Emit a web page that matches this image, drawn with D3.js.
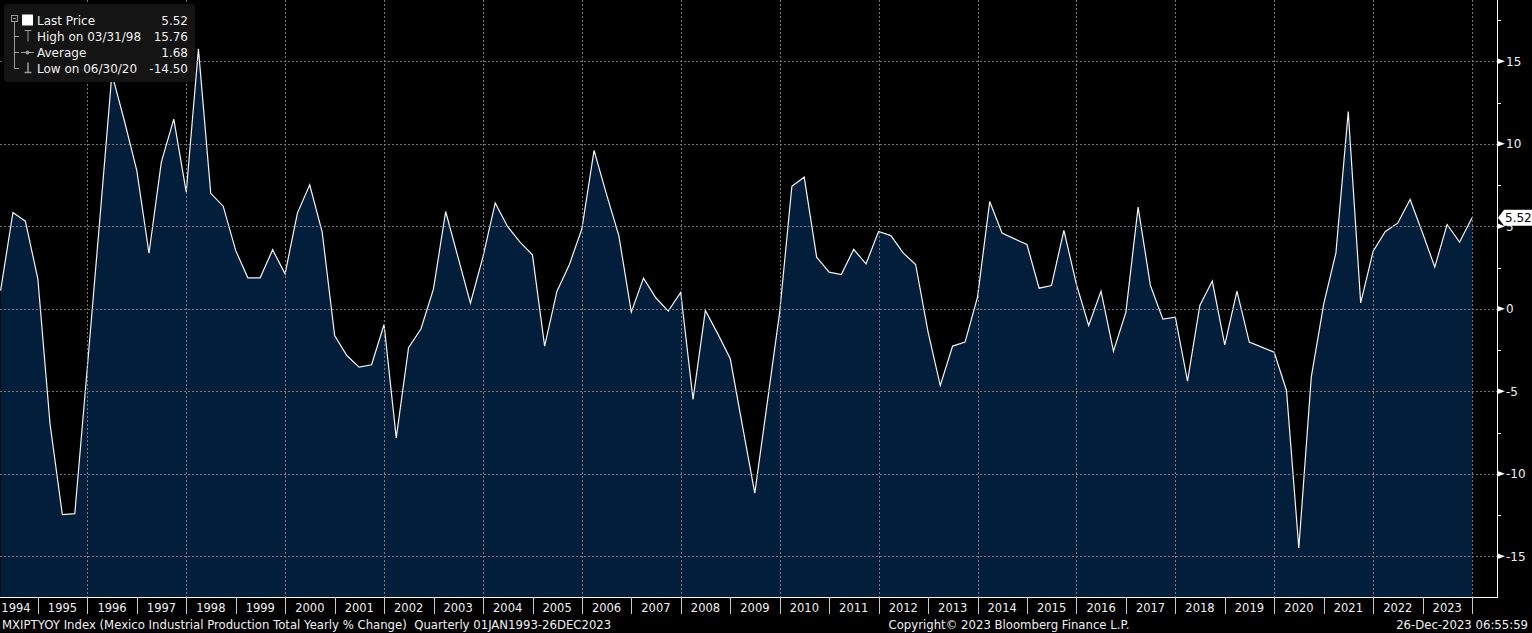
<!DOCTYPE html>
<html>
<head>
<meta charset="utf-8">
<script src="https://cdn.jsdelivr.net/npm/d3@7"></script>
<style>
  html, body { margin: 0; padding: 0; background: #000; overflow: hidden; }
  svg { display: block; font-family: 'DejaVu Sans', sans-serif; }
  .footer text { white-space: pre; }
</style>
</head>
<body>
<div id="chart"></div>
<script>
// ---------------------------------------------------------------------------
// Data

// first point of the series, dated at quarter end
const firstQuarterEnd = Date.UTC(1994, 2, 31);

// MXIPTYOY Index, yearly % change, one value per quarter (1994 Q1 .. 2023 Q4)
const yoyChange = [
  1.10, 5.84, 5.31, 1.82,        // 1994
  -6.97, -12.48, -12.42, -3.60,  // 1995
  5.25, 14.24, 11.40, 8.38,      // 1996
  3.37, 8.89, 11.50, 7.07,       // 1997
  15.76, 7.00, 6.22, 3.54,       // 1998
  1.88, 1.88, 3.58, 2.12,        // 1999
  5.80, 7.52, 4.65, -1.62,       // 2000
  -2.83, -3.54, -3.39, -0.95,    // 2001
  -7.82, -2.36, -1.21, 1.21,     // 2002
  5.90, 3.13, 0.34, 3.13,        // 2003
  6.42, 4.99, 4.04, 3.27,        // 2004
  -2.26, 1.07, 2.69, 4.85,       // 2005
  9.60, 6.97, 4.44, -0.20,       // 2006
  1.86, 0.67, -0.14, 0.99,       // 2007
  -5.49, -0.10, -1.52, -3.03,    // 2008
  -7.10, -11.17, -5.70, -0.20,   // 2009
  7.43, 7.98, 3.13, 2.22,        // 2010
  2.08, 3.60, 2.73, 4.69,        // 2011
  4.44, 3.39, 2.69, -1.41,       // 2012
  -4.65, -2.26, -2.02, 0.71,     // 2013
  6.50, 4.59, 4.24, 3.90,        // 2014
  1.25, 1.41, 4.75, 1.50,        // 2015
  -1.01, 1.07, -2.57, -0.20,     // 2016
  6.16, 1.41, -0.63, -0.51,      // 2017
  -4.38, 0.20, 1.68, -2.18,      // 2018
  1.07, -2.02, -2.32, -2.63,     // 2019
  -4.95, -14.50, -4.14, 0.30,    // 2020
  3.39, 11.96, 0.36, 3.49,       // 2021
  4.69, 5.19, 6.63, 4.60,        // 2022
  2.53, 5.11, 4.04, 5.52         // 2023
];

const yearLabels = [
  '1994', '1995', '1996', '1997', '1998', '1999', '2000', '2001', '2002', '2003',
  '2004', '2005', '2006', '2007', '2008', '2009', '2010', '2011', '2012', '2013',
  '2014', '2015', '2016', '2017', '2018', '2019', '2020', '2021', '2022', '2023'
];

const yTicks = [15, 10, 5, 0, -5, -10, -15];
const yMinorTicks = [17.5, 12.5, 7.5, 2.5, -2.5, -7.5, -12.5];

const legendLabels = ['Last Price', 'High on 03/31/98', 'Average', 'Low on 06/30/20'];
const legendValues = ['5.52', '15.76', '1.68', '-14.50'];
const lastPrice = 5.52;

const footerLeft = 'MXIPTYOY Index (Mexico Industrial Production Total Yearly % Change)  Quarterly 01JAN1993-26DEC2023';
const footerMid = 'Copyright\u00a9 2023 Bloomberg Finance L.P.';
const footerRight = '26-Dec-2023 06:55:59';

// ---------------------------------------------------------------------------
// Layout

const width = 1532;
const height = 633;
const plotRight = 1497;
const plotBottom = 597;
const gridColor = '#8a8a8a';
const textColor = '#f0f0f0';

let quarters = yoyChange.map((v, i) => ({
  date: d3.utcDay.offset(d3.utcMonth.offset(new Date(Date.UTC(1994, 3, 1)), 3 * i), -1),
  value: v
}));

let x = d3.scaleUtc()
  .domain([new Date(firstQuarterEnd), quarters[quarters.length - 1].date])
  .range([0.6, 1472]);

let y = d3.scaleLinear()
  .domain([-17.47, 18.72])
  .range([plotBottom, 0]);

let svg = d3.select('#chart').append('svg')
  .attr('width', width)
  .attr('height', height);

svg.append('rect')
  .attr('width', width)
  .attr('height', height)
  .attr('fill', '#000');

svg.append('clipPath')
  .attr('id', 'plot-clip')
  .append('rect')
  .attr('width', plotRight)
  .attr('height', plotBottom);

// ---------------------------------------------------------------------------
// Series

let area = d3.area()
  .x(d => x(d.date))
  .y0(plotBottom)
  .y1(d => y(d.value));

let line = d3.line()
  .x(d => x(d.date))
  .y(d => y(d.value));

let series = svg.append('g')
  .attr('clip-path', 'url(#plot-clip)');

series.append('path')
  .datum(quarters)
  .attr('d', area)
  .attr('fill', '#021e3b');

// ---------------------------------------------------------------------------
// Grid (drawn over the fill)

let grid = svg.append('g')
  .attr('stroke', gridColor)
  .attr('stroke-width', 1)
  .attr('stroke-dasharray', '2,2')
  .attr('opacity', 0.85);

grid.selectAll('line.h')
  .data(yTicks)
  .enter().append('line')
  .attr('class', 'h')
  .attr('x1', 0)
  .attr('x2', plotRight)
  .attr('y1', d => Math.round(y(d)) + 0.5)
  .attr('y2', d => Math.round(y(d)) + 0.5);

let gridYears = d3.utcYear.every(2).range(new Date(Date.UTC(1994, 0, 1)), new Date(Date.UTC(2024, 0, 2)));

grid.selectAll('line.v')
  .data(gridYears)
  .enter().append('line')
  .attr('class', 'v')
  .attr('x1', d => Math.round(x(d)) + 0.5)
  .attr('x2', d => Math.round(x(d)) + 0.5)
  .attr('y1', 0)
  .attr('y2', plotBottom);

series.append('path')
  .datum(quarters)
  .attr('d', line)
  .attr('fill', 'none')
  .attr('stroke', '#f4f4f4')
  .attr('stroke-width', 1.2)
  .attr('stroke-linejoin', 'miter');

// ---------------------------------------------------------------------------
// Axes

svg.append('line')
  .attr('x1', plotRight + 0.5).attr('x2', plotRight + 0.5)
  .attr('y1', 0).attr('y2', plotBottom + 1)
  .attr('stroke', '#fff');

svg.append('line')
  .attr('x1', 0).attr('x2', plotRight + 1)
  .attr('y1', plotBottom + 0.5).attr('y2', plotBottom + 0.5)
  .attr('stroke', '#fff');

let yAxis = svg.append('g');

yAxis.selectAll('path.tick')
  .data(yTicks)
  .enter().append('path')
  .attr('class', 'tick')
  .attr('d', d => `M${plotRight},${y(d) - 3}L${plotRight + 8},${y(d)}L${plotRight},${y(d) + 3}Z`)
  .attr('fill', '#fff');

yAxis.selectAll('line.minor')
  .data(yMinorTicks)
  .enter().append('line')
  .attr('class', 'minor')
  .attr('x1', plotRight).attr('x2', plotRight + 4)
  .attr('y1', d => Math.round(y(d)) + 0.5)
  .attr('y2', d => Math.round(y(d)) + 0.5)
  .attr('stroke', '#fff');

yAxis.selectAll('text')
  .data(yTicks)
  .enter().append('text')
  .attr('x', plotRight + 9)
  .attr('y', d => y(d) + 4.5)
  .attr('fill', textColor)
  .attr('font-size', '12px')
  .text(d => d);

// years: separators on Jan 1, labels at mid year
let xAxis = svg.append('g');

let yearStarts = d3.utcYear.range(new Date(Date.UTC(1995, 0, 1)), new Date(Date.UTC(2024, 0, 2)));

xAxis.selectAll('line')
  .data(yearStarts)
  .enter().append('line')
  .attr('x1', d => Math.round(x(d)) + 0.5)
  .attr('x2', d => Math.round(x(d)) + 0.5)
  .attr('y1', plotBottom)
  .attr('y2', plotBottom + 17)
  .attr('stroke', '#c8c8c8');

xAxis.selectAll('text')
  .data(yearLabels)
  .enter().append('text')
  .attr('x', d => Math.max(16, x(new Date(Date.UTC(+d, 6, 1)))))
  .attr('y', 612)
  .attr('text-anchor', 'middle')
  .attr('fill', textColor)
  .attr('font-size', '11.5px')
  .text(d => d);

// last price tag, drawn over the axis like the original
let yLast = y(lastPrice);

svg.append('path')
  .attr('d', `M${plotRight + 1},${yLast}L${plotRight + 7},${yLast - 8}L${width},${yLast - 8}L${width},${yLast + 8}L${plotRight + 7},${yLast + 8}Z`)
  .attr('fill', '#fff');

svg.append('text')
  .attr('x', plotRight + 8)
  .attr('y', yLast + 4.5)
  .attr('fill', '#000')
  .attr('font-size', '12px')
  .text(lastPrice.toFixed(2));

// ---------------------------------------------------------------------------
// Legend

let legend = svg.append('g');

legend.append('rect')
  .attr('x', 4).attr('y', 4)
  .attr('width', 191).attr('height', 78)
  .attr('rx', 3)
  .attr('fill', '#141414');

let iconColor = '#9a9a9a';
let rowY = legendLabels.map((d, i) => 20.5 + 16 * i);

// tree lines
legend.append('rect')
  .attr('x', 11.5).attr('y', 15.5)
  .attr('width', 6).attr('height', 6)
  .attr('fill', 'none')
  .attr('stroke', iconColor);
legend.append('line')
  .attr('x1', 13).attr('x2', 16)
  .attr('y1', 18.5).attr('y2', 18.5)
  .attr('stroke', iconColor);
legend.append('line')
  .attr('x1', 14.5).attr('x2', 14.5)
  .attr('y1', 22).attr('y2', rowY[3])
  .attr('stroke', iconColor);
legend.selectAll('line.branch')
  .data(rowY.slice(1))
  .enter().append('line')
  .attr('class', 'branch')
  .attr('x1', 14.5).attr('x2', 19)
  .attr('y1', d => d).attr('y2', d => d)
  .attr('stroke', iconColor);

// icons
legend.append('rect')
  .attr('x', 22).attr('y', rowY[0] - 6)
  .attr('width', 11).attr('height', 11)
  .attr('fill', '#fff');

legend.append('path')
  .attr('d', `M24.5,${rowY[1] - 6}H31.5M28,${rowY[1] - 6}V${rowY[1] + 5}`)
  .attr('stroke', iconColor)
  .attr('fill', 'none');

legend.append('line')
  .attr('x1', 21).attr('x2', 34)
  .attr('y1', rowY[2]).attr('y2', rowY[2])
  .attr('stroke', iconColor);
legend.append('circle')
  .attr('cx', 27.5).attr('cy', rowY[2])
  .attr('r', 2)
  .attr('fill', iconColor);

legend.append('path')
  .attr('d', `M28,${rowY[3] - 6}V${rowY[3] + 4}M24.5,${rowY[3] + 4}H31.5`)
  .attr('stroke', iconColor)
  .attr('stroke-width', 1.5)
  .attr('fill', 'none');

legend.selectAll('text.label')
  .data(legendLabels)
  .enter().append('text')
  .attr('class', 'label')
  .attr('x', 37)
  .attr('y', (d, i) => rowY[i] + 4.8)
  .attr('fill', textColor)
  .attr('font-size', '12px')
  .text(d => d);

legend.selectAll('text.value')
  .data(legendValues)
  .enter().append('text')
  .attr('class', 'value')
  .attr('x', 188)
  .attr('y', (d, i) => rowY[i] + 4.8)
  .attr('text-anchor', 'end')
  .attr('fill', textColor)
  .attr('font-size', '12px')
  .text(d => d);

// ---------------------------------------------------------------------------
// Footer

let footer = svg.append('g')
  .attr('class', 'footer')
  .attr('fill', textColor)
  .attr('font-size', '11.7px');

footer.append('text')
  .attr('x', 2).attr('y', 629)
  .text(footerLeft);

footer.append('text')
  .attr('x', 1009).attr('y', 629)
  .attr('text-anchor', 'middle')
  .text(footerMid);

footer.append('text')
  .attr('x', 1528).attr('y', 629)
  .attr('text-anchor', 'end')
  .text(footerRight);
</script>
</body>
</html>
